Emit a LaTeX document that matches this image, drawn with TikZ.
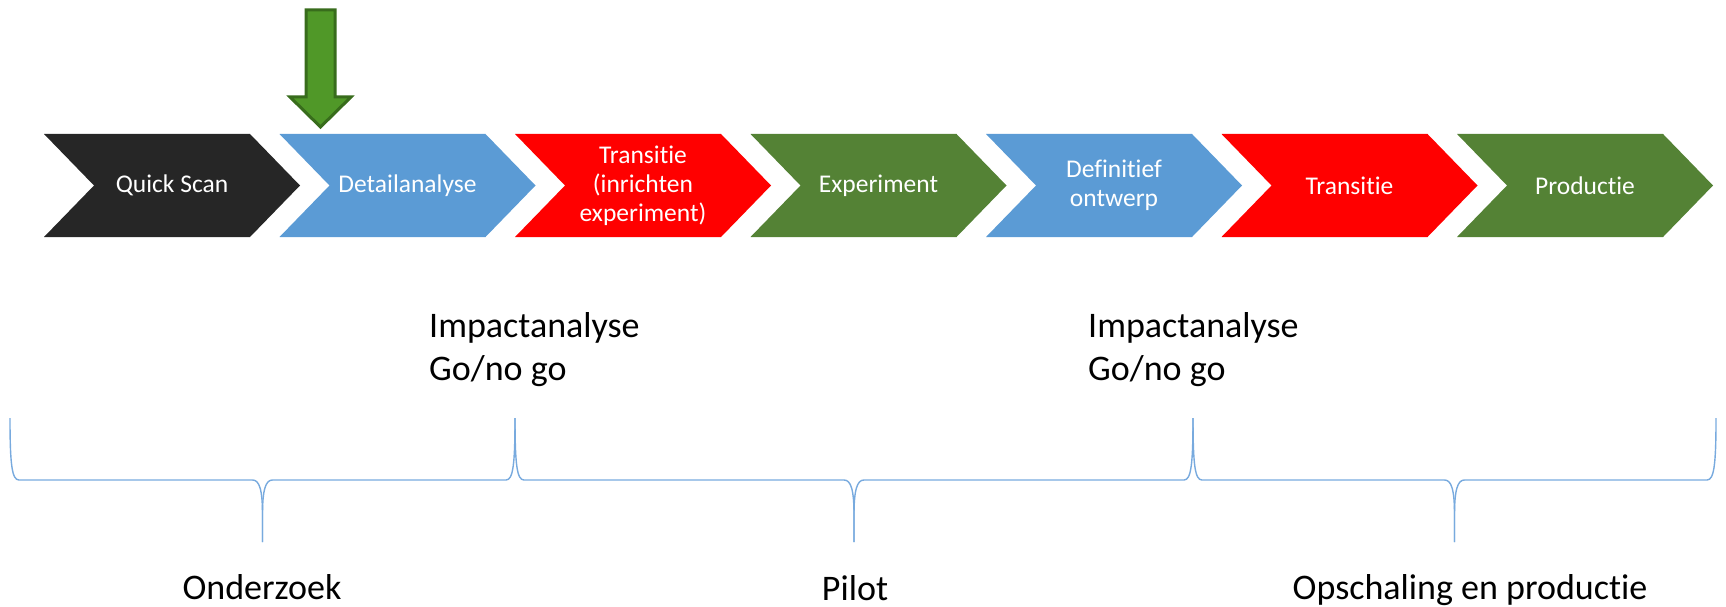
\documentclass[tikz,border=0pt]{standalone}
\usepackage{fontspec}
\setmainfont{Carlito}[Ligatures={NoCommon}]
\definecolor{cblack}{RGB}{38,38,38}
\definecolor{cblue}{RGB}{91,155,213}
\definecolor{cred}{RGB}{255,0,0}
\definecolor{cgreen}{RGB}{84,130,53}
\definecolor{agreen}{RGB}{80,152,40}
\definecolor{agreendark}{RGB}{56,108,28}
\definecolor{bracecol}{RGB}{120,170,222}
\begin{document}
\begin{tikzpicture}[x=1pt,y=-1pt,
  chevtext/.style={text=white,font=\fontsize{25.5}{29}\selectfont,align=center,inner sep=0pt},
  lbl/.style={font=\fontsize{36}{43}\selectfont,inner sep=0pt},
  bracecurve/.style={draw=bracecol,line width=1.4pt},
  bigarrow/.style={draw=agreendark,fill=agreen,line width=3pt}]
\useasboundingbox (0,0) rectangle (1726,607);

% chevrons
\foreach \x/\c/\n/\t in {
  44/cblack/qs/{Quick Scan},
  279.5/cblue/da/{Detailanalyse},
  515/cred/tra/{Transitie\\(inrichten\\experiment)},
  750.5/cgreen/exp/{Experiment},
  986/cblue/def/{Definitief\\ontwerp},
  1221.5/cred/trb/{Transitie},
  1457/cgreen/prod/{Productie}}{
  \fill[\c] (\x,134) -- ++(206,0) -- ++(50,51.5) -- ++(-50,51.5) -- ++(-206,0) -- ++(50,-51.5) -- cycle;
  \node[chevtext] (\n) at (\x+128,185.5) {\t};
}

% green block arrow
\draw[bigarrow] (306,10) -- (335,10) -- (335,97) -- (351,97) -- (320.5,127) -- (290,97) -- (306,97) -- cycle;

% impact analysis texts
\node[lbl,anchor=base west,align=left] (imp1) at (429,380) {Impactanalyse\\Go/no go};
\node[lbl,anchor=base west,align=left] (imp2) at (1088,380) {Impactanalyse\\Go/no go};

% braces
\foreach \a/\b in {10/515, 515/1193, 1193/1716}{
  \pgfmathsetmacro\m{(\a+\b)/2}
  \draw[bracecurve] (\a,418) .. controls (\a,465) and (\a+2,480) .. (\a+9,480) -- (\m-10,480)
     .. controls (\m-3,480) and (\m,490) .. (\m,515) -- (\m,542);
  \draw[bracecurve] (\m,542) -- (\m,515) .. controls (\m,490) and (\m+3,480) .. (\m+10,480)
     -- (\b-9,480) .. controls (\b-2,480) and (\b,465) .. (\b,418);
}

% phase labels
\node[lbl,anchor=base] (onderzoek) at (262,599) {Onderzoek};
\node[lbl,anchor=base] (pilot) at (855,600) {Pilot};
\node[lbl,anchor=base] (opschaling) at (1470,599) {Opschaling en productie};
\end{tikzpicture}
\end{document}
